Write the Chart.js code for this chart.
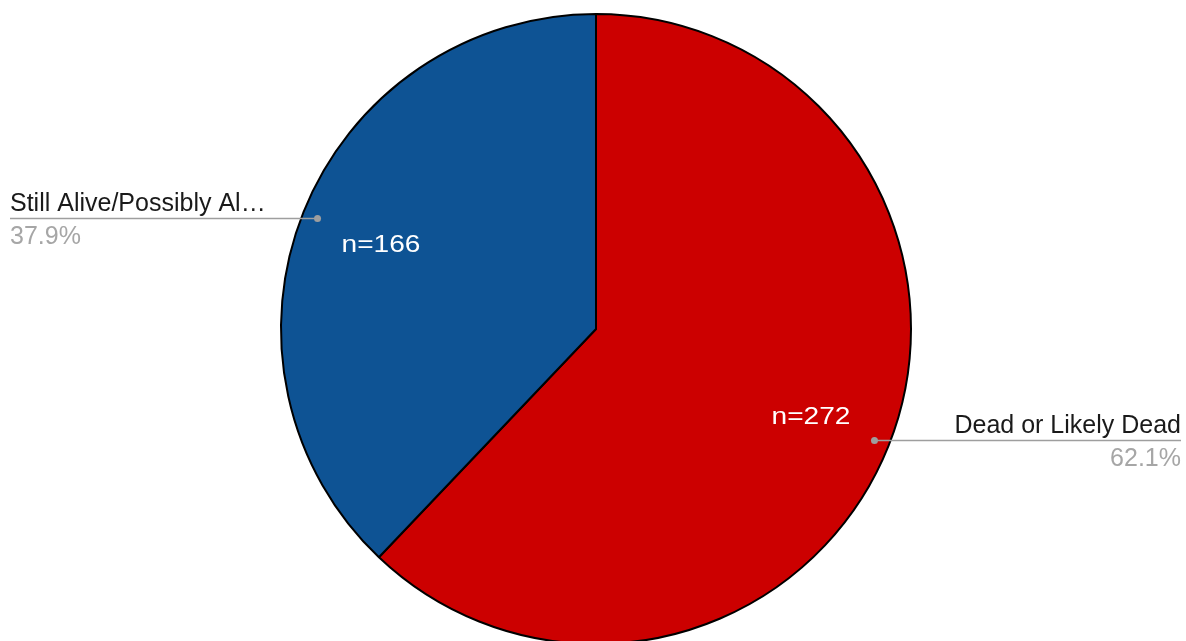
<!DOCTYPE html>
<html>
<head>
<meta charset="utf-8">
<script src="https://cdn.jsdelivr.net/npm/chart.js@4"></script>
<style>
  html, body { margin:0; padding:0; background:#fff; overflow:hidden; }
  #wrap { width:1186px; height:641px; overflow:hidden; }
</style>
</head>
<body>
<div id="wrap"><canvas id="c" width="1186" height="658"></canvas></div>
<script>
// Data
const categories = ["Dead or Likely Dead", "Still Alive/Possibly Al\u2026"];
const counts = [272, 166];
const colors = ["#cc0000", "#0e5394"];

const total = counts.reduce((a, b) => a + b, 0);
const FONT = "Liberation Sans, Arial, sans-serif";

// slice text + leader labels, positioned from each arc's geometry
const pieLabels = {
  id: "pieLabels",
  afterDraw(chart) {
    const ctx = chart.ctx;
    const meta = chart.getDatasetMeta(0);
    meta.data.forEach((arc, i) => {
      const p = arc.getProps(["x", "y", "startAngle", "endAngle", "outerRadius"], true);
      const mid = (p.startAngle + p.endAngle) / 2;
      const dx = Math.cos(mid), dy = Math.sin(mid);

      // n=... inside slice
      const tx = p.x + dx * p.outerRadius * 0.735;
      const ty = p.y + dy * p.outerRadius * 0.735 + 2;
      ctx.save();
      ctx.translate(tx, ty);
      ctx.scale(1.17, 1);
      ctx.fillStyle = "#fff";
      ctx.font = "24px " + FONT;
      ctx.textAlign = "center";
      ctx.textBaseline = "middle";
      ctx.fillText("n=" + counts[i], 0, 0);
      ctx.restore();

      // leader line
      const lx = p.x + dx * p.outerRadius * 0.952;
      const ly = Math.round(p.y + dy * p.outerRadius * 0.952) + 0.5;
      const right = dx > 0;
      const endX = right ? chart.width - 5 : 10;
      ctx.save();
      ctx.strokeStyle = "#9e9e9e";
      ctx.lineWidth = 1.5;
      ctx.beginPath();
      ctx.moveTo(lx, ly);
      ctx.lineTo(endX, ly);
      ctx.stroke();
      ctx.fillStyle = "#9e9e9e";
      ctx.beginPath();
      ctx.arc(lx, ly, 3.5, 0, Math.PI * 2);
      ctx.fill();

      ctx.font = "25px " + FONT;
      ctx.textAlign = right ? "right" : "left";
      ctx.textBaseline = "alphabetic";
      ctx.fillStyle = "#1a1a1a";
      ctx.fillText(categories[i], endX, ly - 8);
      ctx.fillStyle = "#a6a6a6";
      ctx.fillText((counts[i] / total * 100).toFixed(1) + "%", endX, ly + 25);
      ctx.restore();
    });
  }
};

new Chart(document.getElementById("c"), {
  type: "pie",
  data: {
    labels: categories,
    datasets: [{
      data: counts,
      backgroundColor: colors,
      borderColor: "#000",
      borderWidth: 2
    }]
  },
  options: {
    responsive: false,
    animation: false,
    layout: { padding: { top: 13, bottom: 13, left: 6, right: 0 } },
    plugins: { legend: { display: false }, tooltip: { enabled: false } }
  },
  plugins: [pieLabels]
});
</script>
</body>
</html>
